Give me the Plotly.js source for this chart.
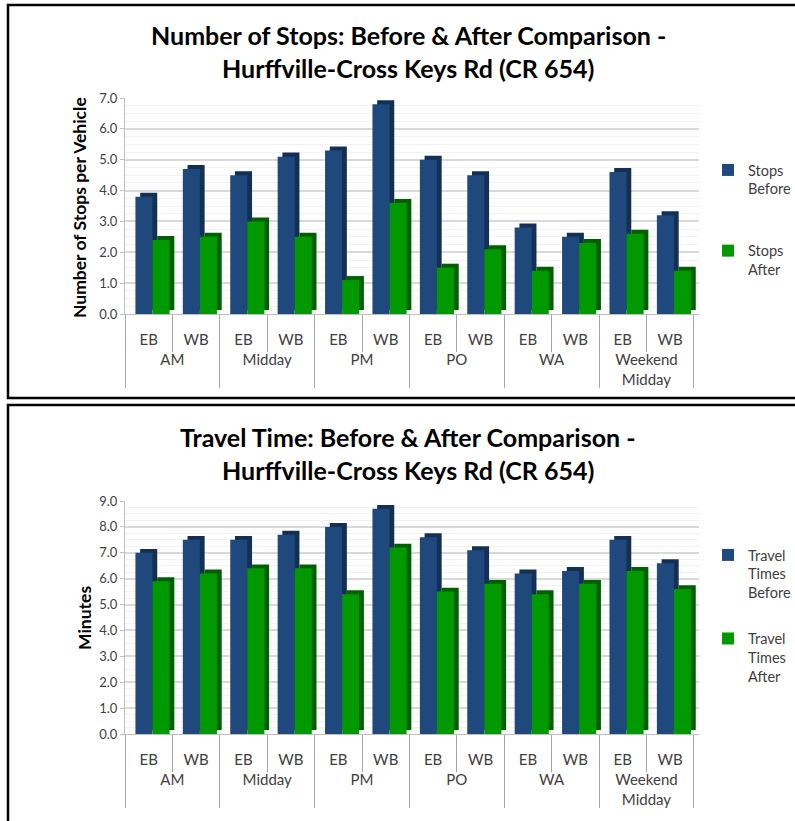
<!DOCTYPE html>
<html>
<head>
<meta charset="utf-8">
<script src="https://cdn.plot.ly/plotly-3.0.1.min.js"></script>
<style>
  html, body { margin: 0; padding: 0; background: #ffffff; }
  #chart { width: 795px; height: 821px; }
</style>
</head>
<body>
<div id="chart"></div>
<script>
// ---------------- data ----------------
const periods = ["AM", "Midday", "PM", "PO", "WA", "Weekend<br>Midday"];
const directions = ["EB", "WB"];

const stopsBefore = [3.8, 4.7, 4.5, 5.1, 5.3, 6.8, 5.0, 4.5, 2.8, 2.5, 4.6, 3.2];
const stopsAfter  = [2.4, 2.5, 3.0, 2.5, 1.1, 3.6, 1.5, 2.1, 1.4, 2.3, 2.6, 1.4];

const travelBefore = [7.0, 7.5, 7.5, 7.7, 8.0, 8.7, 7.6, 7.1, 6.2, 6.3, 7.5, 6.6];
const travelAfter  = [5.9, 6.2, 6.4, 6.4, 5.4, 7.2, 5.5, 5.8, 5.4, 5.8, 6.3, 5.6];

const topTitle1 = "Number of Stops: Before & After Comparison -";
const topTitle2 = "Hurffville-Cross Keys Rd (CR 654)";
const botTitle1 = "Travel Time: Before & After Comparison -";
const botTitle2 = "Hurffville-Cross Keys Rd (CR 654)";
const topYTitle = "Number of Stops per Vehicle";
const botYTitle = "Minutes";
const topNames = ["Stops<br>Before", "Stops<br>After"];
const botNames = ["Travel<br>Times<br>Before", "Travel<br>Times<br>After"];

// ---------------- build ----------------
const xGroups = periods.flatMap(p => directions.map(() => p));
const xSubs = periods.flatMap(() => directions.slice());
const X = [xGroups, xSubs];

const BLUE = "#1f497d", BLUE_DK = "#132f52";
const GREEN = "#009a00", GREEN_DK = "#005f00";
const FONT = "Lato, 'Open Sans', sans-serif";

function makeTraces(before, after, names, xa, ya, xLab, legendId, depthY) {
  const w = 0.36, d = 0.10;
  const common = { type: "bar", x: X, xaxis: xa, yaxis: ya, hoverinfo: "skip" };
  return [
    Object.assign({}, common, { y: before, base: depthY, offset: -0.28 + d, width: w,
      marker: { color: BLUE_DK }, showlegend: false, legend: legendId }),
    Object.assign({}, common, { y: before, offset: -0.28, width: w, name: names[0],
      marker: { color: BLUE }, legend: legendId, legendgroup: legendId + "a" }),
    Object.assign({}, common, { y: after, base: depthY, offset: 0.08 + d, width: w,
      marker: { color: GREEN_DK }, showlegend: false, legend: legendId }),
    Object.assign({}, common, { y: after, offset: 0.08, width: w, name: names[1],
      marker: { color: GREEN }, legend: legendId, legendgroup: legendId + "b" }),
    // carrier for the category-label axis (draws nothing)
    { type: "scatter", mode: "none", x: X, y: before, xaxis: xLab, yaxis: ya,
      showlegend: false, hoverinfo: "skip" }
  ];
}

const data = [].concat(
  makeTraces(stopsBefore, stopsAfter, topNames, "x", "y", "x3", "legend", 0.13),
  makeTraces(travelBefore, travelAfter, botNames, "x2", "y2", "x4", "legend2", 0.15)
);

const W = 795, H = 821;
const px = v => v / W;
const py = v => 1 - v / H;
const XDOM = [px(125), px(698.6)];
const XRANGE = [-0.5, 11.6];

function xAxis(anchor) {
  return {
    type: "multicategory", anchor: anchor,
    domain: XDOM, range: XRANGE,
    showgrid: false, zeroline: false, showticklabels: false,
    showline: true, linecolor: "#bfbfbf", linewidth: 1,
    tickson: "boundaries", ticks: "outside", ticklen: 37, tickcolor: "#a6a6a6",
    showdividers: false,
    fixedrange: true
  };
}
function xLabelAxis(overlay, posPx) {
  return {
    type: "multicategory", overlaying: overlay, anchor: "free", position: py(posPx),
    domain: XDOM, range: XRANGE,
    showgrid: false, zeroline: false, showline: false, ticks: "",
    showdividers: true, dividercolor: "#a6a6a6", dividerwidth: 1,
    tickfont: { family: FONT, size: 15, color: "#404040" },
    fixedrange: true
  };
}
function yAxis(anchor, top, bottom, maxv) {
  return {
    anchor: anchor, domain: [py(bottom), py(top)], range: [0, maxv],
    dtick: 1, tickformat: ".1f",
    showgrid: true, gridcolor: "#d9d9d9", gridwidth: 2,
    minor: { showgrid: true, dtick: 0.25, gridcolor: "#f2f2f2", gridwidth: 1 },
    zeroline: false, showline: true, linecolor: "#bfbfbf", linewidth: 1,
    ticks: "outside", ticklen: 4, tickcolor: "#bfbfbf",
    tickfont: { family: FONT, size: 13, color: "#404040" },
    fixedrange: true
  };
}

function ann(text, x, y, size, opts) {
  return Object.assign({
    text: text, xref: "paper", yref: "paper", x: px(x), y: py(y),
    xanchor: "center", yanchor: "middle", showarrow: false,
    font: { family: FONT, size: size, color: "#000000" }
  }, opts || {});
}

const layout = {
  width: W, height: H,
  margin: { l: 0, r: 0, t: 0, b: 0, autoexpand: false },
  paper_bgcolor: "#ffffff", plot_bgcolor: "#ffffff",
  barmode: "overlay",
  font: { family: FONT, color: "#404040" },
  xaxis: xAxis("y"),
  yaxis: yAxis("x", 98, 314, 7),
  xaxis2: xAxis("y2"),
  yaxis2: yAxis("x2", 501, 734, 9),
  xaxis3: xLabelAxis("x", 329),
  xaxis4: xLabelAxis("x2", 749),
  legend: {
    x: px(708), y: py(154), xanchor: "left", yanchor: "top",
    font: { family: FONT, size: 14.5, color: "#404040" },
    traceorder: "grouped", tracegroupgap: 40, valign: "top",
    itemwidth: 30, bgcolor: "rgba(0,0,0,0)"
  },
  legend2: {
    x: px(708), y: py(539), xanchor: "left", yanchor: "top",
    font: { family: FONT, size: 14.5, color: "#404040" },
    traceorder: "grouped", tracegroupgap: 24, valign: "top",
    itemwidth: 30, bgcolor: "rgba(0,0,0,0)"
  },
  annotations: [
    ann("<b>" + topTitle1 + "</b>", 408, 35, 25),
    ann("<b>" + topTitle2 + "</b>", 408, 68, 25),
    ann("<b>" + botTitle1 + "</b>", 408, 437, 25),
    ann("<b>" + botTitle2 + "</b>", 408, 470, 25),
    ann("<b>" + topYTitle + "</b>", 80, 208, 17.5, { textangle: -90 }),
    ann("<b>" + botYTitle + "</b>", 84, 618, 17.5, { textangle: -90 })
  ],
  shapes: [
    { type: "rect", xref: "paper", yref: "paper", x0: px(8), x1: 1.05, y0: py(398), y1: py(5),
      line: { color: "#000000", width: 2.5 }, fillcolor: "rgba(0,0,0,0)" },
    { type: "rect", xref: "paper", yref: "paper", x0: px(8), x1: 1.05, y0: -0.05, y1: py(405),
      line: { color: "#000000", width: 2.5 }, fillcolor: "rgba(0,0,0,0)" }
  ]
};

Plotly.newPlot("chart", data, layout, { displayModeBar: false, staticPlot: true });
</script>
</body>
</html>
